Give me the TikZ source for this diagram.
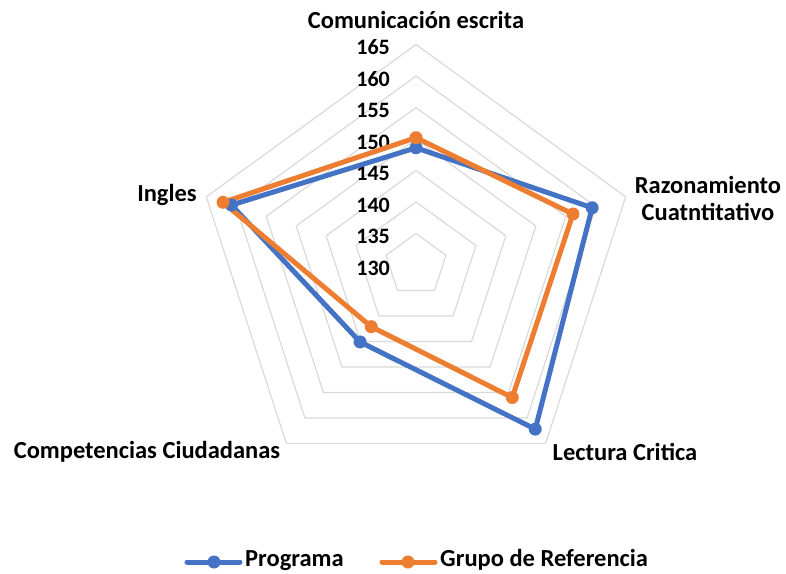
\documentclass[tikz,border=0pt]{standalone}
\usepackage{fontspec}
\setmainfont{Carlito}
\usepackage{tikz}

\definecolor{progblue}{HTML}{4472C4}
\definecolor{refgrupo}{HTML}{ED7D31}
\definecolor{gridgray}{HTML}{D9D9D9}

\begin{document}
\begin{tikzpicture}[x=1pt, y=1pt,
        every node/.style={font=\bfseries\fontsize{24.5}{27}\selectfont, inner sep=0pt},
        escala/.style={anchor=east, font=\bfseries\fontsize{22}{24}\selectfont},
        ring/.style={draw=gridgray, line width=1.2pt},
        serie/.style={line width=5pt, line join=round},
        punto/.style={circle, fill=#1, minimum size=13pt}]

    \useasboundingbox (-416,-308) rectangle (370,265);

    % rejilla
    \foreach \k in {1,...,7} {
        \draw[ring] (90:31.5*\k) -- (18:31.5*\k) -- (-54:31.5*\k)
            -- (-126:31.5*\k) -- (162:31.5*\k) -- cycle;
    }

    % escala
    \foreach \k/\v in {0/130,1/135,2/140,3/145,4/150,5/155,6/160,7/165}
        \node (t\v) [escala] at (-26, 31.5*\k-3) {\v};

    % ejes
    \node (com)  at (0,245)    {Comunicación escrita};
    \node (raz)  [align=center] at (292,67) {Razonamiento\\Cuatntitativo};
    \node (lec)  at (209,-187) {Lectura Critica};
    \node (ciu)  at (-269,-187) {Competencias Ciudadanas};
    \node (ing)  at (-249,70)  {Ingles};

    % Programa
    \coordinate (p1) at (90:6.3*18.6);
    \coordinate (p2) at (18:6.3*29.4);
    \coordinate (p3) at (-54:6.3*32.2);
    \coordinate (p4) at (-126:6.3*15.1);
    \coordinate (p5) at (162:6.3*30.8);
    \draw[serie, progblue] (p1) -- (p2) -- (p3) -- (p4) -- (p5) -- cycle;

    % Grupo de Referencia
    \coordinate (r1) at (90:6.3*20.2);
    \coordinate (r2) at (18:6.3*26.2);
    \coordinate (r3) at (-54:6.3*26.0);
    \coordinate (r4) at (-126:6.3*12.1);
    \coordinate (r5) at (162:6.3*32.2);
    \draw[serie, refgrupo] (r1) -- (r2) -- (r3) -- (r4) -- (r5) -- cycle;

    \foreach \i in {1,...,5} {
        \node[punto=progblue] (mp\i) at (p\i) {};
        \node[punto=refgrupo] (mr\i) at (r\i) {};
    }

    % leyenda
    \coordinate (la1) at (-229,-297);
    \coordinate (lb1) at (-176,-297);
    \draw[serie, progblue, line cap=round] (la1) -- (lb1);
    \node[punto=progblue] (lm1) at (-202,-297) {};
    \node (lprog) [anchor=base west] at (-171,-301) {Programa};

    \coordinate (la2) at (-34,-297);
    \coordinate (lb2) at (19,-297);
    \draw[serie, refgrupo, line cap=round] (la2) -- (lb2);
    \node[punto=refgrupo] (lm2) at (-8,-297) {};
    \node (lref) [anchor=base west] at (24,-301) {Grupo de Referencia};

\end{tikzpicture}
\end{document}
